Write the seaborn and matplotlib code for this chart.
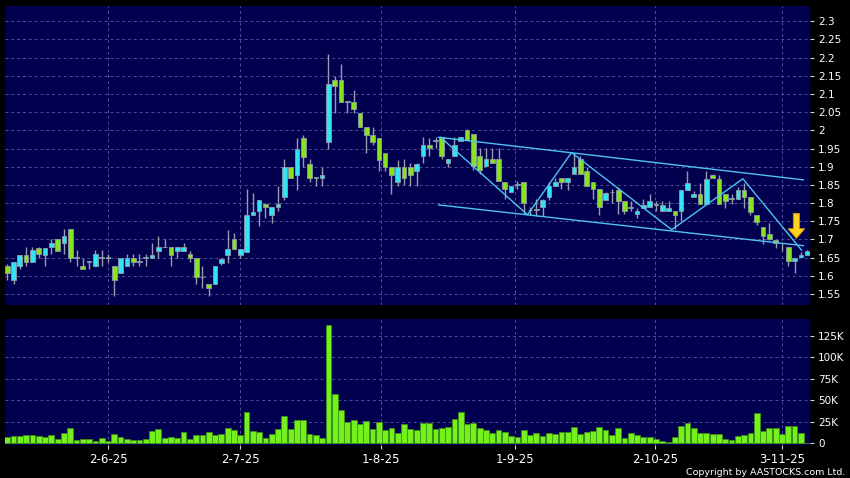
import numpy as np
import matplotlib
matplotlib.use('Agg')
import matplotlib.pyplot as plt
import seaborn as sns
import pandas as pd

# daily OHLC
opens = [1.628, 1.589, 1.628, 1.657, 1.639, 1.676, 1.657, 1.678, 1.700, 1.689,
         1.730, 1.650, 1.628, 1.639, 1.628, 1.650, 1.650, 1.628, 1.607, 1.628,
         1.650, 1.639, 1.650, 1.650, 1.668, 1.678, 1.678, 1.668, 1.668, 1.659,
         1.650, 1.596, 1.578, 1.578, 1.636, 1.657, 1.700, 1.657, 1.666, 1.767,
         1.778, 1.797, 1.767, 1.789, 1.817, 1.898, 1.878, 1.979, 1.907, 1.869,
         1.869, 1.968, 2.139, 2.139, 2.078, 2.078, 2.047, 2.008, 1.986, 1.979,
         1.938, 1.898, 1.857, 1.898, 1.898, 1.889, 1.930, 1.959, 1.972, 1.981,
         1.909, 1.930, 1.972, 2.000, 1.991, 1.930, 1.902, 1.920, 1.920, 1.859,
         1.830, 1.850, 1.859, 1.780, 1.785, 1.789, 1.818, 1.848, 1.868, 1.859,
         1.880, 1.920, 1.889, 1.859, 1.839, 1.809, 1.830, 1.836, 1.805, 1.787,
         1.769, 1.787, 1.788, 1.795, 1.778, 1.778, 1.778, 1.778, 1.836, 1.816,
         1.825, 1.798, 1.876, 1.867, 1.825, 1.810, 1.810, 1.836, 1.816, 1.767,
         1.735, 1.716, 1.698, 1.690, 1.678, 1.640, 1.651, 1.658]
highs = [1.632, 1.639, 1.657, 1.678, 1.680, 1.680, 1.676, 1.700, 1.700, 1.730,
         1.730, 1.670, 1.650, 1.639, 1.670, 1.670, 1.660, 1.628, 1.650, 1.659,
         1.659, 1.659, 1.659, 1.689, 1.709, 1.700, 1.678, 1.678, 1.689, 1.668,
         1.650, 1.628, 1.578, 1.628, 1.650, 1.727, 1.718, 1.675, 1.839, 1.828,
         1.808, 1.800, 1.789, 1.848, 1.920, 1.898, 1.979, 1.988, 1.920, 1.869,
         1.900, 2.209, 2.150, 2.182, 2.078, 2.110, 2.047, 2.008, 2.008, 1.979,
         1.938, 1.898, 1.918, 1.920, 1.910, 1.909, 1.981, 1.980, 1.981, 1.981,
         1.920, 1.981, 1.981, 2.003, 1.991, 1.952, 1.952, 1.952, 1.952, 1.859,
         1.848, 1.860, 1.859, 1.790, 1.810, 1.812, 1.859, 1.870, 1.868, 1.870,
         1.939, 1.930, 1.900, 1.859, 1.839, 1.830, 1.839, 1.845, 1.805, 1.807,
         1.787, 1.810, 1.826, 1.805, 1.805, 1.805, 1.778, 1.836, 1.887, 1.834,
         1.856, 1.887, 1.881, 1.876, 1.825, 1.825, 1.845, 1.856, 1.816, 1.767,
         1.735, 1.745, 1.698, 1.690, 1.678, 1.649, 1.665, 1.670]
lows = [1.589, 1.578, 1.618, 1.628, 1.639, 1.650, 1.628, 1.659, 1.668, 1.659,
        1.639, 1.628, 1.618, 1.618, 1.628, 1.628, 1.639, 1.546, 1.607, 1.628,
        1.628, 1.628, 1.628, 1.650, 1.650, 1.678, 1.628, 1.650, 1.668, 1.639,
        1.578, 1.567, 1.546, 1.578, 1.630, 1.636, 1.675, 1.650, 1.666, 1.767,
        1.736, 1.758, 1.745, 1.778, 1.808, 1.869, 1.837, 1.898, 1.857, 1.847,
        1.847, 1.948, 2.047, 2.078, 2.047, 2.047, 2.010, 1.938, 1.960, 1.889,
        1.887, 1.826, 1.847, 1.849, 1.847, 1.847, 1.909, 1.930, 1.952, 1.920,
        1.900, 1.930, 1.972, 1.974, 1.890, 1.880, 1.902, 1.911, 1.860, 1.810,
        1.830, 1.840, 1.770, 1.767, 1.765, 1.765, 1.808, 1.848, 1.840, 1.835,
        1.880, 1.880, 1.848, 1.810, 1.767, 1.809, 1.800, 1.769, 1.769, 1.778,
        1.758, 1.787, 1.788, 1.778, 1.778, 1.778, 1.729, 1.750, 1.836, 1.816,
        1.798, 1.798, 1.869, 1.798, 1.787, 1.798, 1.810, 1.787, 1.767, 1.740,
        1.687, 1.698, 1.676, 1.667, 1.627, 1.609, 1.651, 1.658]
closes = [1.607, 1.639, 1.657, 1.639, 1.670, 1.659, 1.676, 1.689, 1.668, 1.709,
          1.650, 1.650, 1.618, 1.639, 1.659, 1.650, 1.650, 1.589, 1.650, 1.650,
          1.639, 1.639, 1.650, 1.657, 1.678, 1.678, 1.657, 1.678, 1.678, 1.650,
          1.596, 1.596, 1.567, 1.628, 1.647, 1.675, 1.675, 1.675, 1.767, 1.776,
          1.808, 1.790, 1.789, 1.797, 1.900, 1.869, 1.948, 1.926, 1.869, 1.869,
          1.878, 2.128, 2.121, 2.078, 2.078, 2.060, 2.010, 1.988, 1.968, 1.918,
          1.898, 1.878, 1.898, 1.870, 1.878, 1.907, 1.959, 1.952, 1.972, 1.930,
          1.920, 1.959, 1.981, 1.974, 1.902, 1.891, 1.920, 1.911, 1.860, 1.839,
          1.848, 1.850, 1.800, 1.780, 1.780, 1.809, 1.848, 1.859, 1.859, 1.870,
          1.900, 1.880, 1.848, 1.839, 1.789, 1.827, 1.830, 1.805, 1.778, 1.787,
          1.778, 1.796, 1.805, 1.795, 1.795, 1.787, 1.767, 1.836, 1.856, 1.825,
          1.798, 1.867, 1.869, 1.798, 1.807, 1.815, 1.836, 1.816, 1.776, 1.749,
          1.709, 1.700, 1.689, 1.690, 1.640, 1.649, 1.658, 1.667]
volume_k = [7.0, 8.9, 8.1, 10.1, 9.7, 8.5, 7.8, 9.3, 4.7, 12.0,
            17.4, 3.9, 5.0, 5.0, 3.1, 6.2, 2.7, 10.9, 7.4, 4.7,
            3.9, 3.9, 4.7, 14.0, 16.3, 5.8, 7.8, 6.2, 12.8, 5.4,
            10.1, 10.1, 12.8, 9.7, 10.9, 17.4, 15.9, 9.7, 36.4, 14.3,
            13.2, 6.6, 10.5, 16.7, 31.8, 17.1, 27.1, 27.1, 10.9, 9.7,
            5.8, 137.0, 57.8, 38.4, 25.2, 27.1, 22.9, 26.0, 16.7, 25.2,
            15.5, 17.8, 12.4, 22.5, 16.3, 15.5, 23.3, 24.0, 16.7, 17.4,
            19.0, 28.3, 36.0, 22.9, 23.3, 17.4, 15.5, 12.0, 15.5, 12.8,
            8.5, 7.8, 15.5, 10.1, 11.6, 8.9, 12.4, 10.5, 12.8, 12.8,
            19.4, 11.2, 13.2, 14.7, 18.6, 15.5, 9.7, 17.4, 6.6, 12.0,
            10.1, 7.8, 7.0, 5.4, 2.3, 1.9, 7.8, 20.5, 23.3, 18.2,
            12.4, 12.4, 10.9, 10.9, 5.4, 4.3, 8.9, 9.7, 12.4, 35.3,
            14.7, 18.2, 18.2, 10.9, 20.2, 20.2, 12.0, 0.8]

date_labels = ['2-6-25', '2-7-25', '1-8-25', '1-9-25', '2-10-25', '3-11-25']
date_pos = [16, 37, 59.4, 80.6, 102.9, 123]
price_ticks = [1.55, 1.6, 1.65, 1.7, 1.75, 1.8, 1.85, 1.9, 1.95, 2.0,
               2.05, 2.1, 2.15, 2.2, 2.25, 2.3]
price_labels = ['1.55', '1.6', '1.65', '1.7', '1.75', '1.8', '1.85', '1.9',
                '1.95', '2', '2.05', '2.1', '2.15', '2.2', '2.25', '2.3']
vol_ticks = [0, 25, 50, 75, 100, 125]
vol_labels = ['0', '25K', '50K', '75K', '100K', '125K']

# drawn trend lines
upper_x, upper_y = [68.5, 126.4], [1.981, 1.864]
lower_x, lower_y = [68.5, 126.4], [1.795, 1.683]
zig_x = [68.8, 82.6, 89.6, 105.5, 116.8, 126.1]
zig_y = [1.981, 1.768, 1.939, 1.727, 1.867, 1.671]

df = pd.DataFrame({'o': opens, 'h': highs, 'l': lows, 'c': closes, 'vol': volume_k})
df['idx'] = np.arange(len(df))
df['up'] = df.c >= df.o

navy = '#00004e'
grid_kw = dict(color='#50509a', linestyle=(0, (3, 3)), linewidth=0.7)

fig = plt.figure(figsize=(8.5, 4.78), dpi=100, facecolor='black')
ax = fig.add_axes([0.0059, 0.362, 0.947, 0.6255], facecolor=navy)
axv = fig.add_axes([0.0059, 0.069, 0.947, 0.2636], facecolor=navy)

# candles
ax.vlines(df.idx, df.l, df.h, color='#9a9aae', linewidth=1, zorder=2)
body_lo = df[['o', 'c']].min(axis=1)
body_h = (df.o - df.c).abs().clip(lower=0.0015)
cols = np.where(df.up, '#30e4f6', '#86e41e')
ax.bar(df.idx, body_h, bottom=body_lo, width=0.74, color=cols,
       edgecolor='#8e9aa6', linewidth=0.6, zorder=3)

ax.plot(upper_x, upper_y, color='#4cc4f2', lw=1, zorder=4)
ax.plot(lower_x, lower_y, color='#4cc4f2', lw=1, zorder=4)
ax.plot(zig_x, zig_y, color='#4cc4f2', lw=1, zorder=4)
ax.annotate('', xy=(125.3, 1.703), xytext=(125.3, 1.772),
            arrowprops=dict(facecolor='#ffd21f', edgecolor='#d98c00', lw=0.6,
                            width=4.5, headwidth=12, headlength=7), zorder=5)

ax.set_xlim(-0.35, 127.45)
ax.set_ylim(1.520, 2.342)
ax.set_yticks(price_ticks, price_labels)
ax.set_xticks(date_pos)
ax.tick_params(axis='x', length=0, labelbottom=False)

# volume
sns.barplot(data=df, x='idx', y='vol', native_scale=True, color='#74f01c',
            saturation=1, width=0.92, edgecolor='#3f9410', linewidth=0.5, ax=axv)
axv.set_xlim(-0.35, 127.45)
axv.set_ylim(-2, 144.5)
axv.set_yticks(vol_ticks, vol_labels)
axv.set_xticks(date_pos, date_labels)
axv.set_xlabel('')
axv.set_ylabel('')

for a in (ax, axv):
    a.set_axisbelow(True)
    a.grid(True, **grid_kw)
    a.yaxis.tick_right()
    for s in a.spines.values():
        s.set_visible(False)
    a.tick_params(axis='y', colors='#d0d0d0', labelcolor='white', length=3,
                  width=0.8, pad=3, labelsize=7.5)
axv.tick_params(axis='x', colors='#d0d0d0', labelcolor='white', length=3,
                width=0.8, pad=3, labelsize=8.5)

fig.text(0.995, 0.003, 'Copyright by AASTOCKS.com Ltd.', ha='right', va='bottom',
         color='white', fontsize=6.8)

fig.savefig('out.png', dpi=100, facecolor='black')
